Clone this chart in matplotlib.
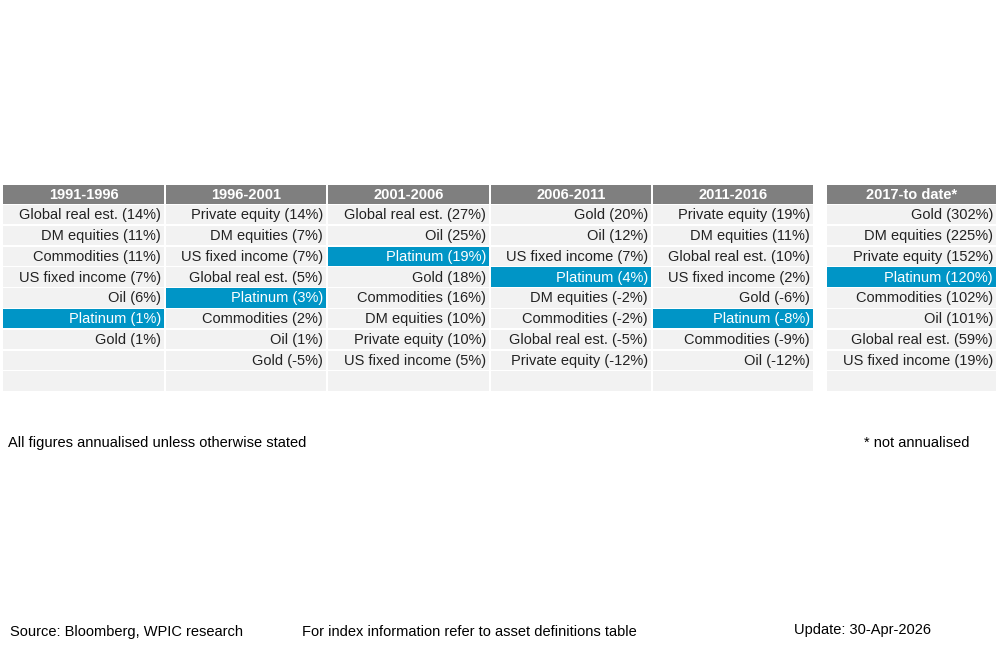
import matplotlib
matplotlib.use("Agg")
import matplotlib.pyplot as plt
from matplotlib.patches import Rectangle

plt.rcParams['font.family'] = ['Liberation Sans', 'DejaVu Sans']

periods = ["1991-1996", "1996-2001", "2001-2006", "2006-2011", "2011-2016", "2017-to date*"]
col_1991 = ["Global real est. (14%)", "DM equities (11%)", "Commodities (11%)", "US fixed income (7%)",
            "Oil (6%)", "Platinum (1%)", "Gold (1%)"]
col_1996 = ["Private equity (14%)", "DM equities (7%)", "US fixed income (7%)", "Global real est. (5%)",
            "Platinum (3%)", "Commodities (2%)", "Oil (1%)", "Gold (-5%)"]
col_2001 = ["Global real est. (27%)", "Oil (25%)", "Platinum (19%)", "Gold (18%)",
            "Commodities (16%)", "DM equities (10%)", "Private equity (10%)", "US fixed income (5%)"]
col_2006 = ["Gold (20%)", "Oil (12%)", "US fixed income (7%)", "Platinum (4%)",
            "DM equities (-2%)", "Commodities (-2%)", "Global real est. (-5%)", "Private equity (-12%)"]
col_2011 = ["Private equity (19%)", "DM equities (11%)", "Global real est. (10%)", "US fixed income (2%)",
            "Gold (-6%)", "Platinum (-8%)", "Commodities (-9%)", "Oil (-12%)"]
col_2017 = ["Gold (302%)", "DM equities (225%)", "Private equity (152%)", "Platinum (120%)",
            "Commodities (102%)", "Oil (101%)", "Global real est. (59%)", "US fixed income (19%)"]
columns = [col_1991, col_1996, col_2001, col_2006, col_2011, col_2017]

fig = plt.figure(figsize=(10, 6.53), dpi=100)
ax = fig.add_axes([0, 0, 1, 1])
ax.set_xlim(0, 1000)
ax.set_ylim(653, 0)
ax.axis('off')

x_lefts = [3, 166, 328, 491, 653, 827]
widths = [161, 160, 161, 160, 160, 169]
head_top, head_h = 185, 19
row_top, row_h, nrows = 205, 20.8, 9
grey, cell, blue = '#7f7f7f', '#f2f2f2', '#0095c6'

for j, (x0, w) in enumerate(zip(x_lefts, widths)):
    ax.add_patch(Rectangle((x0, head_top), w, head_h, color=grey, lw=0))
    ax.text(x0 + w / 2, head_top + head_h / 2 + 0.5, periods[j], ha='center', va='center',
            color='white', fontsize=10.5, fontweight='bold')
    for i in range(nrows):
        y0 = row_top + i * row_h
        label = columns[j][i] if i < len(columns[j]) else ""
        plat = label.startswith("Platinum")
        ax.add_patch(Rectangle((x0, y0), w, row_h - 1.5, color=blue if plat else cell, lw=0))
        if label:
            ax.text(x0 + w - 3, y0 + (row_h - 1.5) / 2 + 0.5, label, ha='right', va='center',
                    color='white' if plat else '#222222', fontsize=10.5)

ax.text(8, 443, "All figures annualised unless otherwise stated", ha='left', va='center', fontsize=10.5)
ax.text(969, 443, "* not annualised", ha='right', va='center', fontsize=10.5)
ax.text(10, 632, "Source: Bloomberg, WPIC research", ha='left', va='center', fontsize=10.5)
ax.text(302, 632, "For index information refer to asset definitions table", ha='left', va='center', fontsize=10.5)
ax.text(931, 630, "Update: 30-Apr-2026", ha='right', va='center', fontsize=10.5)

fig.savefig("out.png", dpi=100)
